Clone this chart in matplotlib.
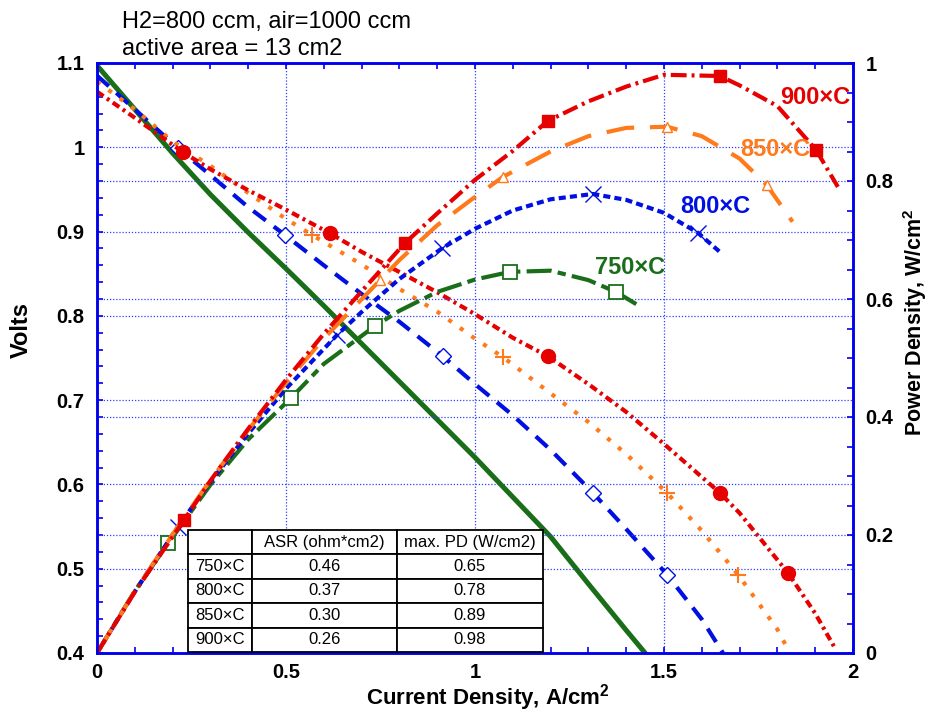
import matplotlib
matplotlib.use('Agg')
import matplotlib.pyplot as plt
from matplotlib.ticker import MultipleLocator, FuncFormatter

plt.rcParams['font.family'] = ['Liberation Sans', 'DejaVu Sans']
plt.rcParams['font.weight'] = 'bold'
plt.rcParams['mathtext.fontset'] = 'custom'
plt.rcParams['mathtext.rm'] = 'Liberation Sans:bold'
plt.rcParams['mathtext.bf'] = 'Liberation Sans:bold'

# ---------------- data ----------------
# 900 C
i900_v = [0, 0.1, 0.228, 0.3, 0.4, 0.5, 0.616, 0.7, 0.8, 0.9, 1.0, 1.1, 1.193, 1.3, 1.4, 1.5, 1.648, 1.7, 1.828, 1.9, 1.952]
v900 = [1.066, 1.035, 0.994, 0.974, 0.949, 0.926, 0.898, 0.876, 0.852, 0.828, 0.802, 0.774, 0.752, 0.719, 0.686, 0.648, 0.59, 0.566, 0.495, 0.447, 0.406]
i900_p = [0, 0.1, 0.23, 0.3, 0.4, 0.5, 0.6, 0.7, 0.815, 0.9, 1.0, 1.1, 1.193, 1.3, 1.4, 1.5, 1.648, 1.7, 1.8, 1.902, 1.96]
p900 = [0, 0.1035, 0.225, 0.292, 0.38, 0.463, 0.541, 0.613, 0.695, 0.745, 0.802, 0.851, 0.902, 0.935, 0.96, 0.98, 0.978, 0.962, 0.927, 0.853, 0.79]
# 850 C
i850_v = [0, 0.1, 0.2, 0.3, 0.4, 0.5, 0.569, 0.7, 0.8, 0.9, 1.0, 1.074, 1.2, 1.3, 1.4, 1.508, 1.6, 1.696, 1.8, 1.833]
v850 = [1.078, 1.045, 1.007, 0.978, 0.946, 0.915, 0.896, 0.861, 0.832, 0.805, 0.773, 0.751, 0.708, 0.674, 0.636, 0.59, 0.545, 0.493, 0.428, 0.4]
i850_p = [0, 0.1, 0.2, 0.3, 0.4, 0.5, 0.6, 0.749, 0.8, 0.9, 1.0, 1.074, 1.2, 1.3, 1.4, 1.508, 1.6, 1.7, 1.772, 1.84]
p850 = [0, 0.1045, 0.201, 0.293, 0.378, 0.458, 0.533, 0.632, 0.666, 0.725, 0.773, 0.807, 0.85, 0.876, 0.89, 0.892, 0.876, 0.838, 0.793, 0.731]
# 800 C
i800_v = [0, 0.1, 0.214, 0.3, 0.4, 0.497, 0.6, 0.7, 0.8, 0.915, 1.0, 1.1, 1.2, 1.312, 1.4, 1.508, 1.6, 1.656]
v800 = [1.085, 1.045, 0.999, 0.967, 0.929, 0.896, 0.86, 0.826, 0.793, 0.752, 0.719, 0.682, 0.641, 0.59, 0.547, 0.493, 0.44, 0.4]
i800_p = [0, 0.1, 0.214, 0.3, 0.4, 0.5, 0.635, 0.7, 0.8, 0.913, 1.0, 1.1, 1.2, 1.312, 1.4, 1.5, 1.59, 1.651]
p800 = [0, 0.104, 0.214, 0.29, 0.372, 0.448, 0.539, 0.578, 0.634, 0.686, 0.719, 0.75, 0.769, 0.778, 0.768, 0.746, 0.712, 0.678]
# 750 C
i750_v = [0, 0.1, 0.2, 0.3, 0.4, 0.5, 0.6, 0.7, 0.8, 0.9, 1.0, 1.1, 1.2, 1.3, 1.4, 1.45]
v750 = [1.097, 1.045, 0.993, 0.944, 0.899, 0.856, 0.812, 0.767, 0.722, 0.677, 0.632, 0.585, 0.538, 0.482, 0.427, 0.4]
i750_p = [0, 0.1, 0.188, 0.3, 0.4, 0.513, 0.6, 0.735, 0.8, 0.9, 1.0, 1.093, 1.2, 1.3, 1.373, 1.43]
p750 = [0, 0.105, 0.186, 0.285, 0.362, 0.432, 0.49, 0.554, 0.58, 0.612, 0.633, 0.646, 0.648, 0.632, 0.612, 0.59]

# table
table_header = ['', 'ASR (ohm*cm2)', 'max. PD (W/cm2)']
temps = ['750×C', '800×C', '850×C', '900×C']
asr = ['0.46', '0.37', '0.30', '0.26']
max_pd = ['0.65', '0.78', '0.89', '0.98']

x_ticks = [0, 0.5, 1, 1.5, 2]
v_ticks = [0.4, 0.5, 0.6, 0.7, 0.8, 0.9, 1.0, 1.1]
pd_ticks = [0, 0.2, 0.4, 0.6, 0.8, 1.0]

# ---------------- style ----------------
RED = '#e60000'
ORANGE = '#ff7a1a'
BLUE = '#0010e0'
GREEN = '#1a6e1a'
AXBLUE = '#0000ee'
LW = 3.0

W, H = 933, 713
fig = plt.figure(figsize=(W / 100, H / 100), dpi=100)
ax = fig.add_axes([97 / W, (H - 653) / H, 756 / W, 590 / H])
ax2 = ax.twinx()

# voltage curves
ax.plot(i750_v, v750, color=GREEN, lw=3.6, solid_capstyle='round')
ax.plot(i800_v, v800, color=BLUE, lw=LW, dashes=(3.8, 2.4),
        marker='D', ms=8, mfc='white', mec=BLUE, mew=1.0, markevery=[2, 5, 9, 13, 15])
ax.plot(i850_v, v850, color=ORANGE, lw=LW, dashes=(1, 2.4),
        marker='+', ms=12, mec=ORANGE, mew=1.5, markevery=[6, 11, 15, 17])
ax.plot(i900_v, v900, color=RED, lw=LW, dashes=(1.9, 1.0, 0.7, 1.0),
        marker='o', ms=10, mfc=RED, mec=RED, markevery=[2, 6, 12, 16, 18])

# power density curves
ax2.plot(i750_p, p750, color=GREEN, lw=LW, dashes=(6, 1.5, 2, 1.5),
         marker='s', ms=10, mfc='white', mec=GREEN, mew=1.3, markevery=[2, 5, 7, 11, 14])
ax2.plot(i800_p, p800, color=BLUE, lw=LW, dashes=(1.7, 1.0),
         marker='x', ms=12, mec=BLUE, mew=1.0, markevery=[2, 6, 9, 13, 16])
ax2.plot(i850_p, p850, color=ORANGE, lw=LW, dashes=(6.7, 3.8),
         marker='^', ms=7, mfc='white', mec=ORANGE, mew=1.0, markevery=[7, 11, 15, 18])
ax2.plot(i900_p, p900, color=RED, lw=LW, dashes=(3.8, 1.2, 0.7, 1.2),
         marker='s', ms=9, mfc=RED, mec=RED, markevery=[2, 8, 12, 16, 19])

# curve labels
ax2.text(1.807, 0.942, '900×C', color=RED, fontsize=17, fontweight='bold', va='center', ha='left')
ax2.text(1.701, 0.853, '850×C', color=ORANGE, fontsize=17, fontweight='bold', va='center', ha='left')
ax2.text(1.542, 0.756, '800×C', color=BLUE, fontsize=17, fontweight='bold', va='center', ha='left')
ax2.text(1.317, 0.654, '750×C', color=GREEN, fontsize=17, fontweight='bold', va='center', ha='left')

# axes limits / ticks
ax.set_xlim(0, 2)
ax.set_ylim(0.4, 1.1)
ax2.set_ylim(0, 1)
fmt = FuncFormatter(lambda v, p: '%g' % round(v, 3))
ax.set_xticks(x_ticks)
ax.set_yticks(v_ticks)
ax2.set_yticks(pd_ticks)
ax.xaxis.set_minor_locator(MultipleLocator(0.1))
ax.yaxis.set_minor_locator(MultipleLocator(0.02))
ax2.yaxis.set_minor_locator(MultipleLocator(0.05))
for a in (ax.xaxis, ax.yaxis, ax2.yaxis):
    a.set_major_formatter(fmt)

ax.tick_params(axis='x', which='both', direction='in', top=True, bottom=True,
               color=AXBLUE, length=4, width=1.2, labelsize=14.5, pad=7)
ax.tick_params(axis='y', which='both', direction='in', left=True, right=False,
               color=AXBLUE, length=4, width=1.2, labelsize=14.5, pad=9)
ax2.tick_params(axis='y', which='both', direction='in', right=True, left=False,
                color=AXBLUE, length=4, width=1.2, labelsize=14.5, pad=9)

for a in (ax, ax2):
    for s in a.spines.values():
        s.set_color(AXBLUE)
        s.set_linewidth(1.8)

# grid
ax.set_axisbelow(True)
ax.grid(True, which='major', color='#3040ff', linestyle=(0, (1, 1.5)), linewidth=0.9)
ax2.grid(True, which='major', axis='y', color='#3040ff', linestyle=(0, (1, 1.5)), linewidth=0.9)
ax2.set_axisbelow(True)

# labels
ax.set_xlabel(r'Current Density, A/cm$^{\mathbf{2}}$', fontsize=16, fontweight='bold')
ax.xaxis.set_label_coords(0.517, -0.050)
ax.set_ylabel('Volts', fontsize=17, fontweight='bold')
ax.yaxis.set_label_coords(-0.085, 0.547)
ax2.set_ylabel(r'Power Density, W/cm$^{\mathbf{2}}$', fontsize=15.5, fontweight='bold')
ax2.yaxis.set_label_coords(1.064, 0.561)

# top annotation
fig.text(122 / W, 1 - 28 / H, 'H2=800 ccm, air=1000 ccm', fontsize=17, fontweight='normal', va='baseline')
fig.text(122 / W, 1 - 55 / H, 'active area = 13 cm2', fontsize=17, fontweight='normal', va='baseline')

# table
rows = [[t, a, p] for t, a, p in zip(temps, asr, max_pd)]
tbl = ax2.table(cellText=rows, colLabels=table_header,
                colWidths=[0.180, 0.408, 0.412],
                bbox=[0.1204, 0.0017, 0.4696, 0.2068], cellLoc='center')
tbl.auto_set_font_size(False)
tbl.set_fontsize(12)
tbl.set_zorder(20)
for (r, c), cell in tbl.get_celld().items():
    cell.set_edgecolor('black')
    cell.set_linewidth(1.3)
    cell.set_facecolor('white')
    cell.get_text().set_fontweight('normal')
    cell.get_text().set_fontsize(12)
    if c == 0 and r > 0:
        cell._loc = 'left'
        cell.PAD = 0.06

fig.savefig('out.png', dpi=100)
